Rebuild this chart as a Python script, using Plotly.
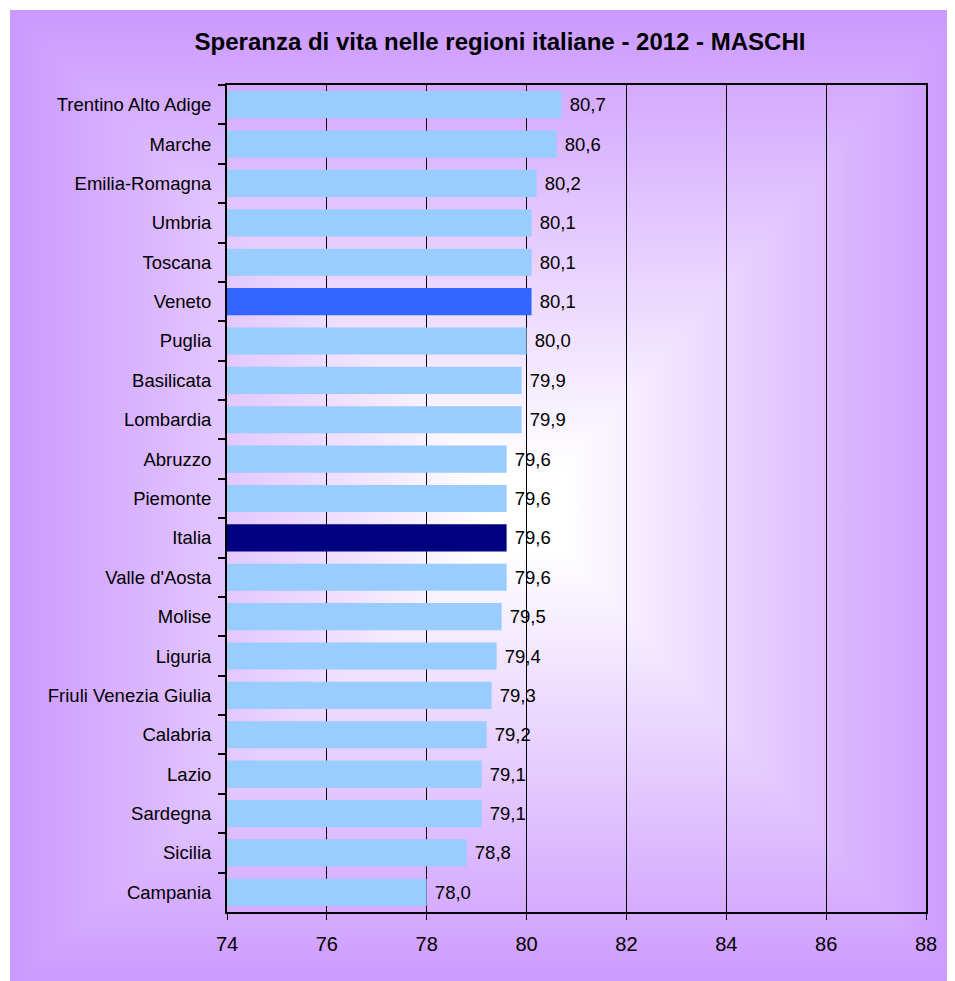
import base64
import plotly.graph_objects as go

# ---- data (top to bottom as in the chart) ----
regioni = [
    "Trentino Alto Adige", "Marche", "Emilia-Romagna", "Umbria", "Toscana",
    "Veneto", "Puglia", "Basilicata", "Lombardia", "Abruzzo", "Piemonte",
    "Italia", "Valle d'Aosta", "Molise", "Liguria", "Friuli Venezia Giulia",
    "Calabria", "Lazio", "Sardegna", "Sicilia", "Campania",
]
speranza = [
    80.7, 80.6, 80.2, 80.1, 80.1,
    80.1, 80.0, 79.9, 79.9, 79.6, 79.6,
    79.6, 79.6, 79.5, 79.4, 79.3,
    79.2, 79.1, 79.1, 78.8, 78.0,
]
x_ticks = [74, 76, 78, 80, 82, 84, 86, 88]
titolo = "Speranza di vita nelle regioni italiane - 2012 - MASCHI"

# ---- styling ----
OFF = 8  # page body margin
W, H = 955 - OFF, 981 - OFF
PL, PR, PT, PB = 227 - OFF, 926 - OFF, 85 - OFF, 912 - OFF  # plot area in figure pixels
FONT = "Liberation Sans, Arial, sans-serif"
PURPLE = "#CC99FF"

def bar_color(name):
    if name == "Veneto":
        return "#3366FF"
    if name == "Italia":
        return "#000080"
    return "#99CCFF"

colors = [bar_color(r) for r in regioni]
labels = [" " + f"{v:.1f}".replace(".", ",") for v in speranza]

# rectangular "from center" gradient background (chart area) as SVG
cx0, cy0, cx1, cy1 = 10 - OFF, 10 - OFF, 960 - OFF, 990 - OFF
gw, gh = cx1 - cx0, cy1 - cy0
ccx, ccy = 530 - OFF - cx0, 510 - OFF - cy0
stops = ("<stop offset='0' stop-color='#FFFFFF'/><stop offset='0.08' stop-color='#FFFFFF'/>"
         "<stop offset='1' stop-color='%s'/>" % PURPLE)
svg = f"""<svg xmlns='http://www.w3.org/2000/svg' width='{gw}' height='{gh}' viewBox='0 0 {gw} {gh}' preserveAspectRatio='none'>
<defs>
<linearGradient id='L' gradientUnits='userSpaceOnUse' x1='{ccx}' y1='0' x2='0' y2='0'>{stops}</linearGradient>
<linearGradient id='R' gradientUnits='userSpaceOnUse' x1='{ccx}' y1='0' x2='{gw}' y2='0'>{stops}</linearGradient>
<linearGradient id='T' gradientUnits='userSpaceOnUse' x1='0' y1='{ccy}' x2='0' y2='0'>{stops}</linearGradient>
<linearGradient id='B' gradientUnits='userSpaceOnUse' x1='0' y1='{ccy}' x2='0' y2='{gh}'>{stops}</linearGradient>
</defs>
<rect x='0' y='0' width='{gw}' height='{gh}' fill='{PURPLE}'/>
<polygon points='{ccx},{ccy} 0,0 0,{gh}' fill='url(#L)' stroke='url(#L)' stroke-width='1.5'/>
<polygon points='{ccx},{ccy} {gw},0 {gw},{gh}' fill='url(#R)' stroke='url(#R)' stroke-width='1.5'/>
<polygon points='{ccx},{ccy} 0,0 {gw},0' fill='url(#T)' stroke='url(#T)' stroke-width='1.5'/>
<polygon points='{ccx},{ccy} 0,{gh} {gw},{gh}' fill='url(#B)' stroke='url(#B)' stroke-width='1.5'/>
</svg>"""
svg_uri = "data:image/svg+xml;base64," + base64.b64encode(svg.encode()).decode()

pw, ph = PR - PL, PB - PT

fig = go.Figure(
    go.Bar(
        y=regioni,
        x=speranza,
        orientation="h",
        marker=dict(color=colors, line=dict(width=0)),
        text=labels,
        textposition="outside",
        constraintext="none",
        cliponaxis=False,
        textfont=dict(family=FONT, size=18.5, color="#000000"),
        hoverinfo="x+y",
    )
)

fig.update_layout(
    width=W,
    height=H,
    margin=dict(l=PL, r=W - PR, t=PT, b=H - PB, pad=0),
    paper_bgcolor="#FFFFFF",
    plot_bgcolor="rgba(0,0,0,0)",
    bargap=0.31,
    showlegend=False,
    title=dict(
        text="<b>" + titolo + "</b>",
        x=(500 - OFF) / W, xref="container", xanchor="center",
        y=1 - (42 - OFF) / H, yref="container", yanchor="middle",
        font=dict(family=FONT, size=24, color="#000000"),
    ),
    images=[dict(
        source=svg_uri,
        xref="paper", yref="paper",
        x=(cx0 - PL) / pw, y=(PB - cy0) / ph,
        sizex=gw / pw, sizey=gh / ph,
        xanchor="left", yanchor="top",
        sizing="stretch", layer="below",
    )],
    xaxis=dict(
        range=[x_ticks[0], x_ticks[-1]],
        tickvals=x_ticks,
        ticktext=[str(t) for t in x_ticks],
        showgrid=True, gridcolor="#000000", gridwidth=1,
        zeroline=False,
        showline=True, linecolor="#000000", linewidth=2, mirror=True,
        ticks="outside", ticklen=6, tickwidth=1, tickcolor="#000000",
        ticklabelstandoff=7,
        tickfont=dict(family=FONT, size=20, color="#000000"),
        fixedrange=True,
    ),
    yaxis=dict(
        autorange="reversed",
        showgrid=False, zeroline=False,
        showline=True, linecolor="#000000", linewidth=2, mirror=True,
        ticks="outside", tickson="boundaries", ticklen=7, tickwidth=2,
        tickcolor="#000000",
        ticklabelstandoff=10,
        tickfont=dict(family=FONT, size=18.5, color="#000000"),
        fixedrange=True,
    ),
)

fig.write_html("out.html")
